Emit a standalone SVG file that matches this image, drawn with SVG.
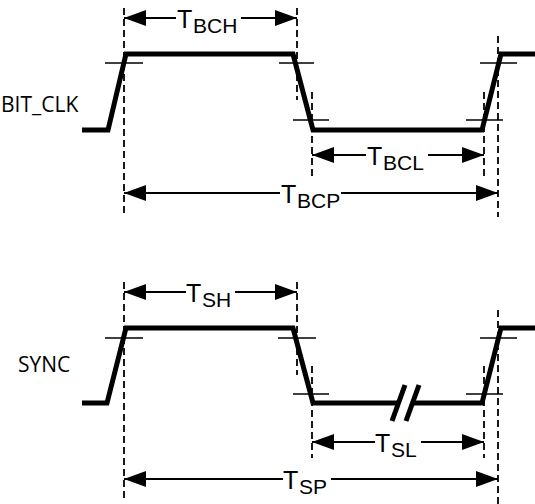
<svg xmlns="http://www.w3.org/2000/svg" width="535" height="504" viewBox="0 0 535 504">
<style>
.wave{fill:none;stroke:#000;stroke-width:5;stroke-linejoin:miter;stroke-linecap:butt}
.tick{stroke:#000;stroke-width:1.3}
.dash{stroke:#000;stroke-width:1.8;stroke-dasharray:7,4}
.dim{stroke:#000;stroke-width:2}
.lbl{font-family:"Open Sans","Liberation Sans",Arial,sans-serif;font-size:21px;fill:#000}
.t{font-family:"Liberation Sans",Arial,sans-serif;font-size:25px;fill:#000}
.sub{font-size:21px}
</style>
<defs>
<marker id="ah" viewBox="0 0 22 16" refX="22" refY="8" markerWidth="22" markerHeight="16" markerUnits="userSpaceOnUse" orient="auto-start-reverse">
<path d="M0,0 L22,8 L0,16 z" fill="#000"/>
</marker>
</defs>
<rect width="535" height="504" fill="#fff"/>

<g id="bitclk">
<text class="lbl" x="1" y="112">BIT_CLK</text>
<path class="wave" d="M82,130 L108,130 L126,54 L293,54 L313,130 L482,130 L501,54 L535,54"/>
<g class="tick">
<line x1="105" y1="63" x2="143" y2="63"/>
<line x1="279" y1="63" x2="314" y2="63"/>
<line x1="480" y1="63" x2="517" y2="63"/>
<line x1="293" y1="120" x2="329" y2="120"/>
<line x1="466" y1="120" x2="503" y2="120"/>
</g>
</g>

<g id="sync">
<text class="lbl" x="18" y="372">SYNC</text>
<path class="wave" d="M82,403 L107,403 L126,328 L293,328 L313,403 L398,403 M412,403 L482,403 L501,328 L535,328"/>
<line class="wave" x1="392" y1="421" x2="405" y2="385"/>
<line class="wave" x1="406" y1="421" x2="419" y2="385"/>
<g class="tick">
<line x1="105" y1="338" x2="143" y2="338"/>
<line x1="278" y1="338" x2="316" y2="338"/>
<line x1="480" y1="338" x2="517" y2="338"/>
<line x1="293" y1="394" x2="329" y2="394"/>
<line x1="466" y1="394" x2="503" y2="394"/>
</g>
</g>

<g id="guides">
<line class="dash" x1="124" y1="8" x2="124" y2="217"/>
<line class="dash" x1="297" y1="8" x2="297" y2="100"/>
<line class="dash" x1="312" y1="92" x2="312" y2="176"/>
<line class="dash" x1="484" y1="92" x2="484" y2="176"/>
<line class="dash" x1="498" y1="36" x2="498" y2="217"/>
<line class="dash" x1="124" y1="282" x2="124" y2="500"/>
<line class="dash" x1="297" y1="282" x2="297" y2="375"/>
<line class="dash" x1="312" y1="366" x2="312" y2="458"/>
<line class="dash" x1="484" y1="366" x2="484" y2="458"/>
<line class="dash" x1="498" y1="310" x2="498" y2="504"/>
</g>

<g id="connectors">
<line class="dim" x1="124" y1="18" x2="176" y2="18" marker-start="url(#ah)"/>
<line class="dim" x1="241" y1="18" x2="297" y2="18" marker-end="url(#ah)"/>
<line class="dim" x1="312" y1="155" x2="366" y2="155" marker-start="url(#ah)"/>
<line class="dim" x1="428" y1="155" x2="484" y2="155" marker-end="url(#ah)"/>
<line class="dim" x1="124" y1="193" x2="280" y2="193" marker-start="url(#ah)"/>
<line class="dim" x1="341" y1="193" x2="498" y2="193" marker-end="url(#ah)"/>
<line class="dim" x1="124" y1="292" x2="186" y2="292" marker-start="url(#ah)"/>
<line class="dim" x1="235" y1="292" x2="297" y2="292" marker-end="url(#ah)"/>
<line class="dim" x1="312" y1="442" x2="375" y2="442" marker-start="url(#ah)"/>
<line class="dim" x1="421" y1="442" x2="484" y2="442" marker-end="url(#ah)"/>
<line class="dim" x1="124" y1="479" x2="283" y2="479" marker-start="url(#ah)"/>
<line class="dim" x1="331" y1="479" x2="498" y2="479" marker-end="url(#ah)"/>
</g>

<g id="labels">
<text class="t" x="177" y="28">T<tspan class="sub" x="193" y="33">BCH</tspan></text>
<text class="t" x="367" y="165">T<tspan class="sub" x="383" y="170">BCL</tspan></text>
<text class="t" x="281" y="203">T<tspan class="sub" x="297" y="208">BCP</tspan></text>
<text class="t" x="186" y="302">T<tspan class="sub" x="202" y="307">SH</tspan></text>
<text class="t" x="375" y="452">T<tspan class="sub" x="391" y="457">SL</tspan></text>
<text class="t" x="283" y="489">T<tspan class="sub" x="299" y="494">SP</tspan></text>
</g>
</svg>
